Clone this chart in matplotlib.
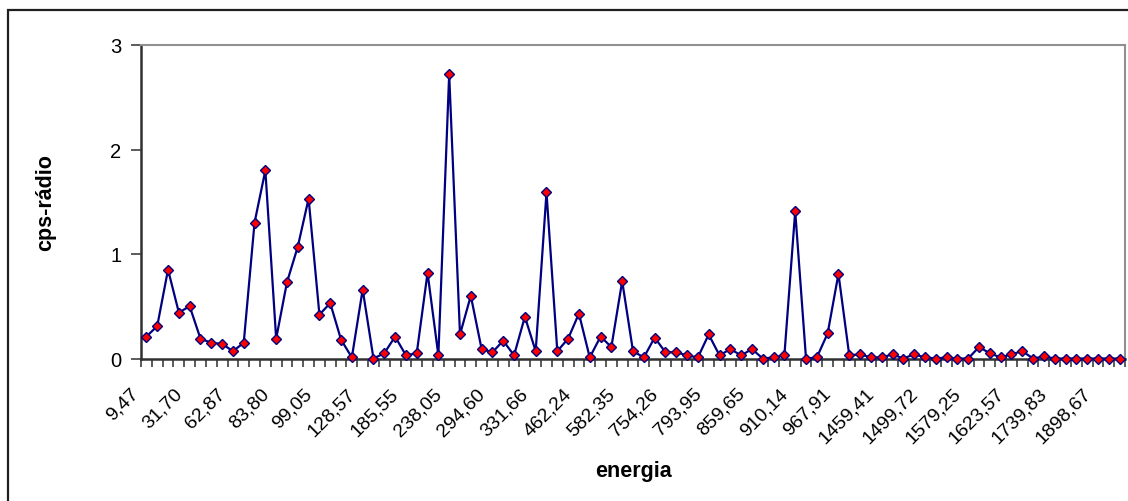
import matplotlib.pyplot as plt
import matplotlib.patches as patches
import matplotlib.transforms as mtransforms
import numpy as np

plt.rcParams['font.family'] = ['Liberation Sans', 'DejaVu Sans']

# energia labels (only every 4th category is labelled on the axis)
energia_labels = ['9,47', '31,70', '62,87', '83,80', '99,05', '128,57', '185,55',
                  '238,05', '294,60', '331,66', '462,24', '582,35', '754,26',
                  '793,95', '859,65', '910,14', '967,91', '1459,41', '1499,72',
                  '1579,25', '1623,57', '1739,83', '1898,67']

cps_radio = [0.21, 0.31, 0.85, 0.44, 0.50, 0.19, 0.15, 0.14, 0.07, 0.15,
             1.30, 1.80, 0.19, 0.73, 1.07, 1.53, 0.42, 0.53, 0.18, 0.01,
             0.66, 0.00, 0.05, 0.21, 0.03, 0.05, 0.82, 0.03, 2.72, 0.23,
             0.60, 0.09, 0.06, 0.17, 0.03, 0.40, 0.07, 1.59, 0.07, 0.19,
             0.43, 0.01, 0.21, 0.11, 0.74, 0.07, 0.01, 0.20, 0.06, 0.06,
             0.03, 0.01, 0.23, 0.03, 0.09, 0.03, 0.09, 0.00, 0.01, 0.03,
             1.41, 0.00, 0.01, 0.24, 0.81, 0.03, 0.04, 0.01, 0.01, 0.04,
             0.00, 0.04, 0.01, 0.00, 0.01, 0.00, 0.00, 0.11, 0.05, 0.01,
             0.04, 0.07, 0.00, 0.02, 0.00, 0.00, 0.00, 0.00, 0.00, 0.00,
             0.00]

n = len(cps_radio)
x = np.arange(n)

fig = plt.figure(figsize=(11.28, 5.02), dpi=100)
ax = fig.add_axes([141 / 1128, (502 - 359.5) / 502, (1125 - 141) / 1128, (359.5 - 46) / 502])

ax.plot(x, cps_radio, color='#000080', lw=1.6, marker='D', markersize=5.2,
        markerfacecolor='#ff0000', markeredgecolor='#000080', markeredgewidth=1.0,
        clip_on=False, zorder=3)

ax.set_xlim(-0.5, n - 0.5)
ax.set_ylim(0, 3)
ax.set_yticks([0, 1, 2, 3])
ax.tick_params(axis='y', direction='out', length=7, width=1.2, color='#404040',
               labelsize=14.5, pad=7)

# category boundary ticks + labels on every 4th category
ax.set_xticks(x[::4])
ax.set_xticklabels(energia_labels, rotation=45, ha='right', va='center',
                   rotation_mode='anchor', fontsize=14)
ax.tick_params(axis='x', which='major', length=0, pad=23)
shift = mtransforms.ScaledTranslation(-10 / 100, 0, fig.dpi_scale_trans)
for lab in ax.get_xticklabels():
    lab.set_transform(lab.get_transform() + shift)
ax.set_xticks(np.arange(n + 1) - 0.5, minor=True)
ax.tick_params(axis='x', which='minor', direction='out', length=6, width=1.2,
               color='#404040')

for side in ['left', 'bottom']:
    ax.spines[side].set_color('#303030')
    ax.spines[side].set_linewidth(1.8)
for side in ['top', 'right']:
    ax.spines[side].set_color('#909090')
    ax.spines[side].set_linewidth(1.5)

fig.text(46 / 1128, (502 - 203) / 502, 'cps-rádio', fontsize=15.5, fontweight='bold',
         ha='center', va='center', rotation=90)
fig.text(633 / 1128, (502 - 472) / 502, 'energia', fontsize=15.5, fontweight='bold',
         ha='center', va='center')

# outer chart border (right and bottom edges fall outside the picture)
border = patches.Rectangle((8 / 1128, -0.2), 1.2, (502 - 11) / 502 + 0.2,
                           transform=fig.transFigure, fill=False,
                           edgecolor='#202020', lw=1.6, clip_on=False)
fig.patches.append(border)

fig.savefig('out.png', dpi=100)
